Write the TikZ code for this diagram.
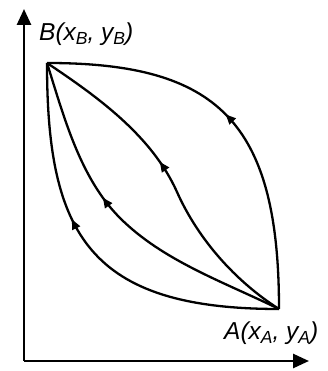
\documentclass[tikz,border=0pt]{standalone}
\usepackage{fontspec}
\setmainfont{Liberation Sans}
\usetikzlibrary{arrows.meta,decorations.markings}
\newcommand\lblsub[1]{\raisebox{-0.3ex}{\fontsize{17.5}{18}\selectfont #1}}

\begin{document}
\begin{tikzpicture}[x=1pt,y=1pt,
  every node/.style={font=\fontsize{24.5}{28}\selectfont\itshape,inner sep=0pt},
  axisline/.style={black,line width=2.7pt,-{Triangle[length=16pt,width=14pt]}},
  pathcurve/.style={black,line width=2.3pt},
  midarrow/.style={postaction={decorate},decoration={markings,
    mark=at position #1 with {\arrow{Triangle[length=10pt,width=8.5pt]}}}}]
\useasboundingbox (0,0) rectangle (327,371);
\coordinate (O) at (24,10);
\coordinate (ytip) at (24,362);
\coordinate (xtip) at (309,10);
\coordinate (A) at (279,62);
\coordinate (B) at (47,308);
\draw[axisline] (O) -- (ytip);
\draw[axisline] (O) -- (xtip);
\node[anchor=base west] (lblB) at (39,330) {B(x\lblsub{B}, y\lblsub{B})};
\node[anchor=base west] (lblA) at (224,31) {A(x\lblsub{A}, y\lblsub{A})};
\draw[pathcurve,midarrow=0.52] (A) .. controls (279,250) and (217,308) .. (B);
\draw[pathcurve,midarrow=0.56] (A) .. controls (235,90) and (198,132) .. (177,179)
  .. controls (152,235) and (98,274) .. (B);
\draw[pathcurve,midarrow=0.59] (A) .. controls (224,89) and (163,110) .. (120,153)
  .. controls (80,193) and (64,254) .. (B);
\draw[pathcurve,midarrow=0.6] (A) .. controls (89,62) and (47,137) .. (B);
\end{tikzpicture}
\end{document}
